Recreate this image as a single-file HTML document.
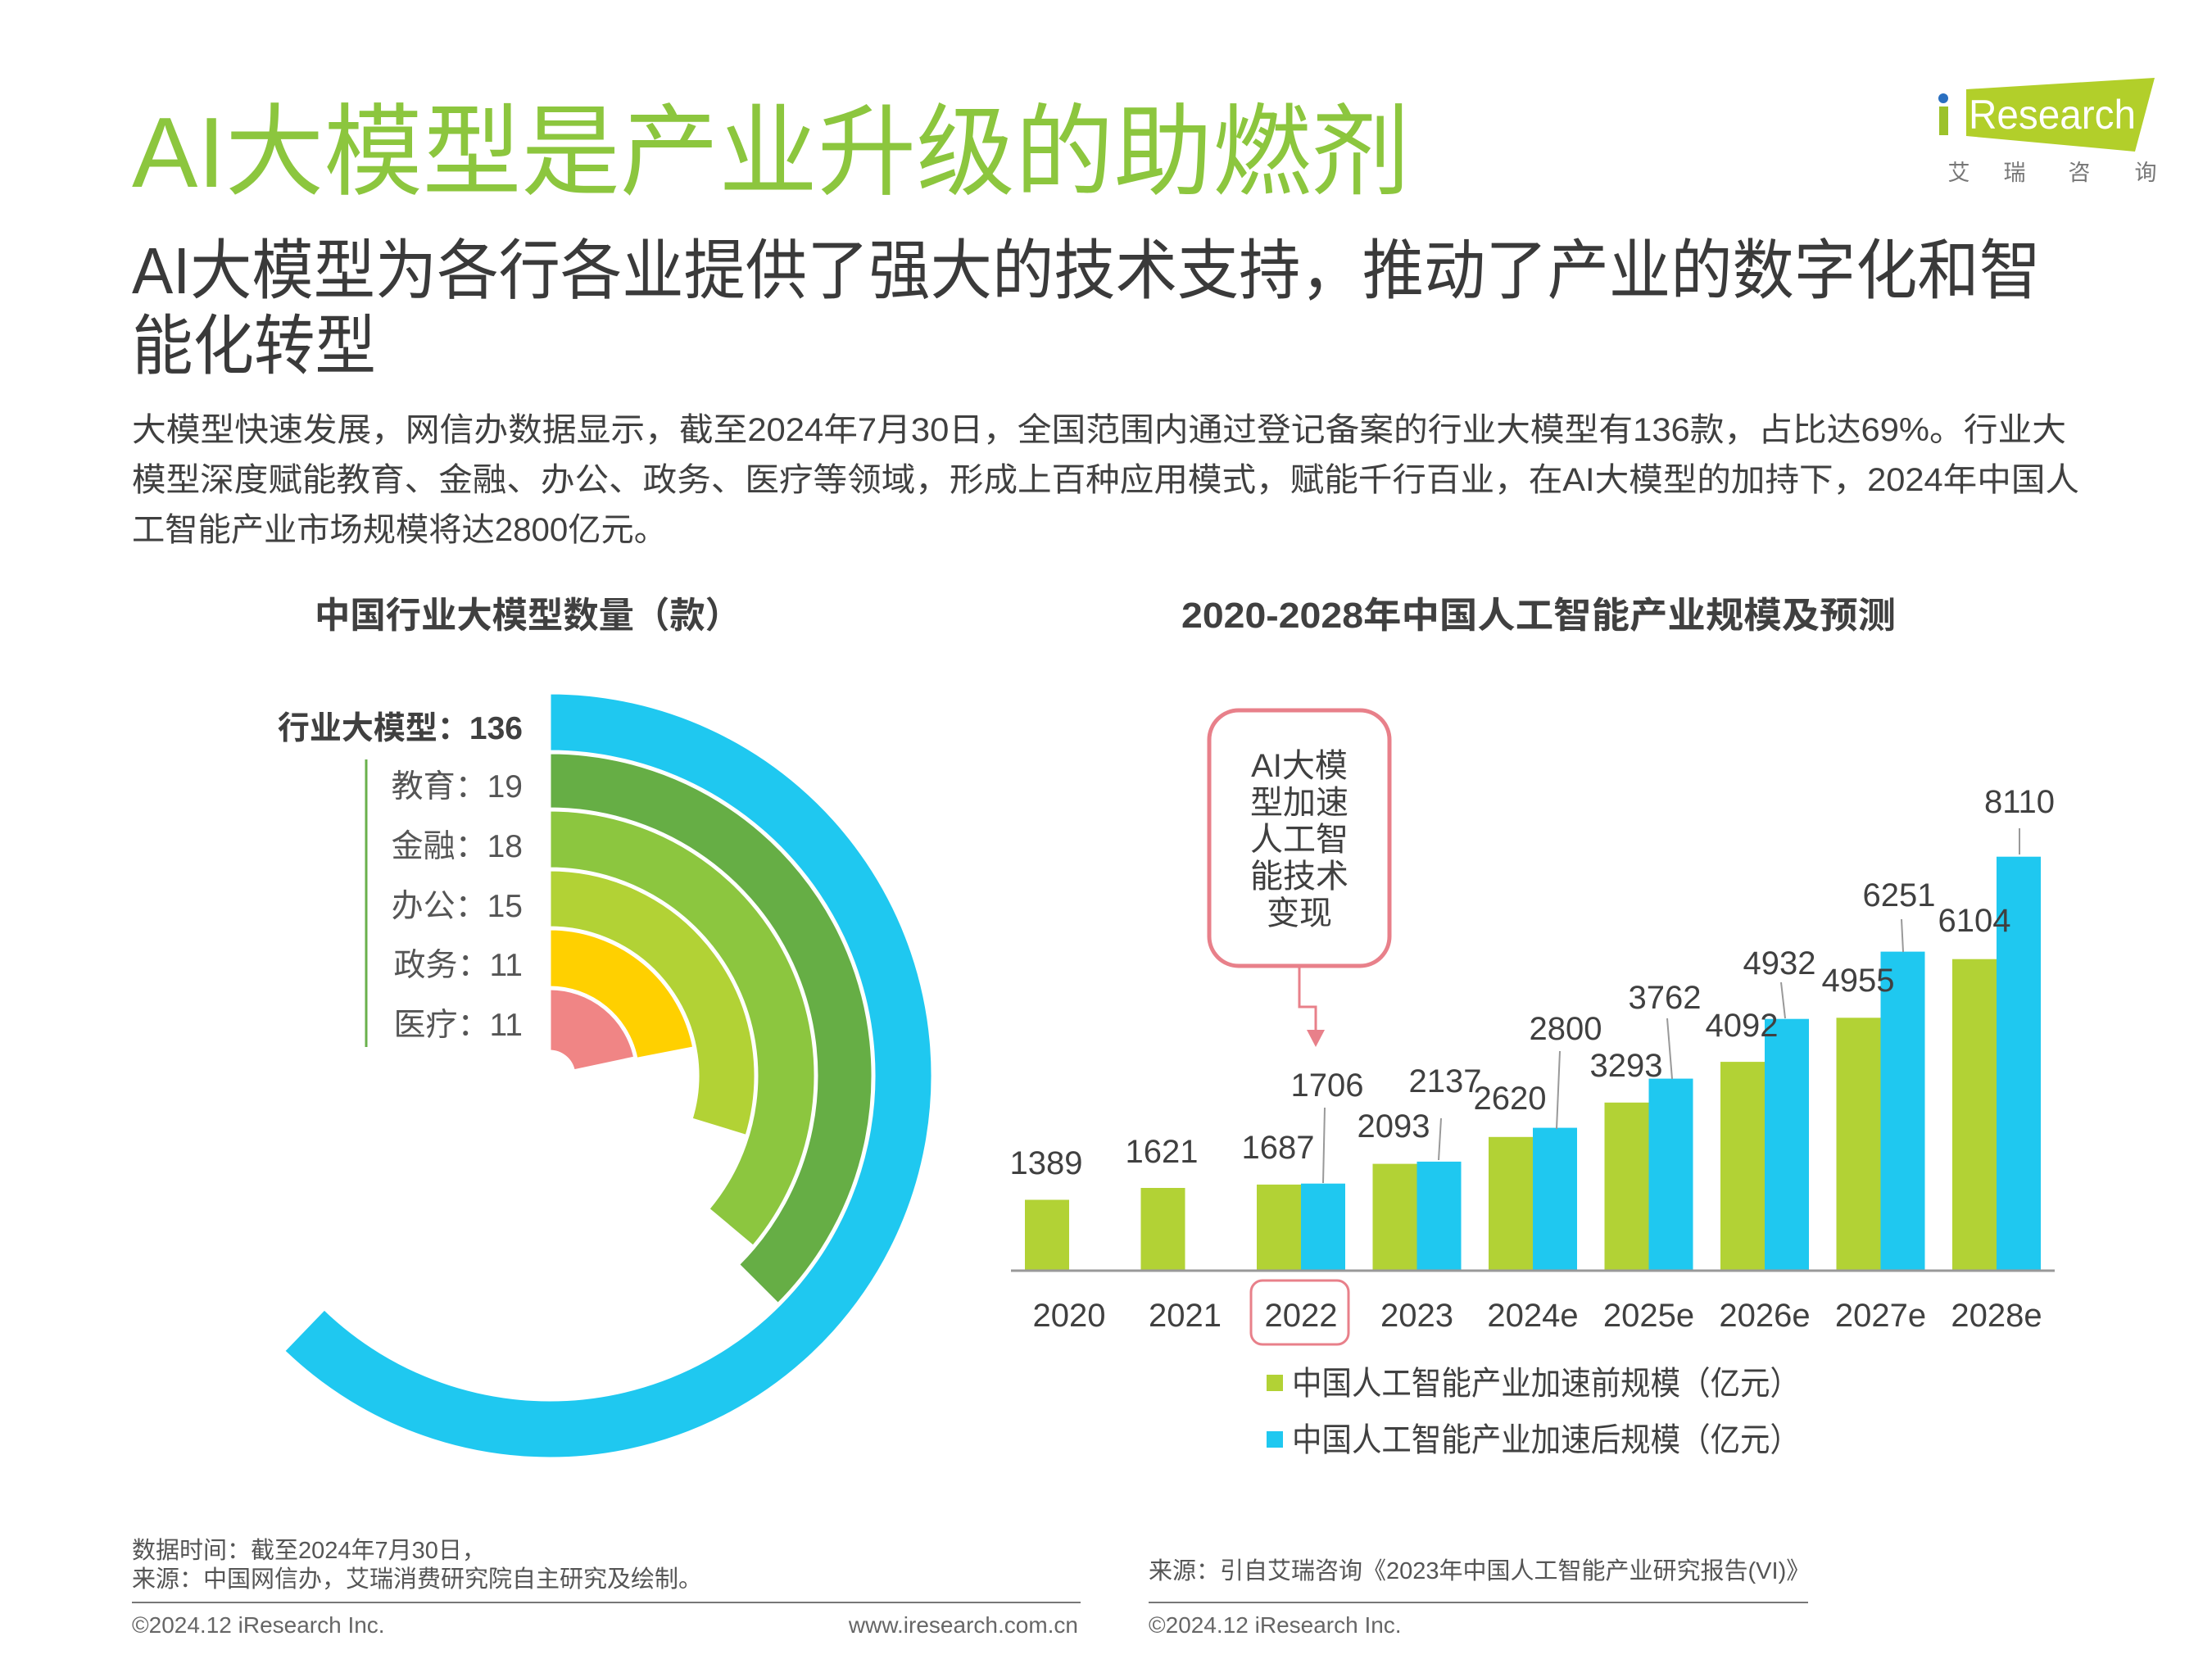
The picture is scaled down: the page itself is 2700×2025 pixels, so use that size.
<!DOCTYPE html>
<html><head><meta charset="utf-8"><style>
html,body{margin:0;padding:0;background:#fff;}
svg{display:block;}
text{font-family:"Liberation Sans","Noto Sans CJK SC",sans-serif;}
</style></head><body>
<svg width="2700" height="2025" viewBox="0 0 2700 2025" xmlns="http://www.w3.org/2000/svg">
<rect width="2700" height="2025" fill="#fff"/>
<!-- logo -->
<polygon points="2400,109 2630,95 2606,185 2400,166" fill="#b2cf2a"/>
<rect x="2367" y="130" width="11" height="35" fill="#9cc22a"/>
<circle cx="2372" cy="120" r="6" fill="#2a6fc0"/>
<text x="2403" y="157" font-size="50" fill="#fff" textLength="204" lengthAdjust="spacingAndGlyphs">Research</text>
<g font-size="27" fill="#777" text-anchor="middle">
<text x="2391" y="220">艾</text><text x="2459" y="220">瑞</text><text x="2538" y="220">咨</text><text x="2619" y="220">询</text>
</g>
<!-- titles -->
<text x="161" y="228" font-size="122" fill="#8cc63e" textLength="1560" lengthAdjust="spacingAndGlyphs">AI大模型是产业升级的助燃剂</text>
<text x="161" y="358" font-size="80" fill="#3a3a3a" textLength="2330" lengthAdjust="spacingAndGlyphs">AI大模型为各行各业提供了强大的技术支持，推动了产业的数字化和智</text>
<text x="161" y="450" font-size="80" fill="#3a3a3a" textLength="298" lengthAdjust="spacingAndGlyphs">能化转型</text>
<g font-size="40" fill="#404040">
<text x="161" y="538" textLength="2361" lengthAdjust="spacingAndGlyphs">大模型快速发展，网信办数据显示，截至2024年7月30日，全国范围内通过登记备案的行业大模型有136款，占比达69%。行业大</text>
<text x="161" y="599" textLength="2377" lengthAdjust="spacingAndGlyphs">模型深度赋能教育、金融、办公、政务、医疗等领域，形成上百种应用模式，赋能千行百业，在AI大模型的加持下，2024年中国人</text>
<text x="161" y="660" textLength="653" lengthAdjust="spacingAndGlyphs">工智能产业市场规模将达2800亿元。</text>
</g>
<text x="384" y="766" font-size="44" font-weight="bold" fill="#404040" textLength="520" lengthAdjust="spacingAndGlyphs">中国行业大模型数量（款）</text>
<text x="1442" y="766" font-size="44" font-weight="bold" fill="#404040" textLength="872" lengthAdjust="spacingAndGlyphs">2020-2028年中国人工智能产业规模及预测</text>
<!-- radial -->
<g stroke="#fff" stroke-width="3" transform="translate(0,-6)">
<path d="M671,852 A467,467 0 1 1 346.6,1654.9 L395.9,1603.8 A396,396 0 1 0 671,923 Z" fill="#1fc8f0"/>
<path d="M671,925 A394,394 0 0 1 949.6,1597.6 L901.5,1549.5 A326,326 0 0 0 671,993 Z" fill="#66ae45"/>
<path d="M671,995 A324,324 0 0 1 919.2,1527.3 L864.8,1481.6 A253,253 0 0 0 671,1066 Z" fill="#8cc63f"/>
<path d="M671,1068 A251,251 0 0 1 911,1392.4 L844.1,1371.9 A181,181 0 0 0 671,1138 Z" fill="#b2d235"/>
<path d="M671,1140 A179,179 0 0 1 846.7,1284.8 L777,1298.4 A108,108 0 0 0 671,1211 Z" fill="#ffd000"/>
<path d="M671,1213 A106,106 0 0 1 774.7,1297 L700.3,1312.8 A30,30 0 0 0 671,1289 Z" fill="#f08585"/>
</g>
<line x1="447" y1="927" x2="447" y2="1278" stroke="#6ab04c" stroke-width="3"/>
<g font-size="39" fill="#555" text-anchor="end">
<text x="638" y="902" font-weight="bold" fill="#404040">行业大模型：136</text>
<text x="638" y="973">教育：19</text>
<text x="638" y="1046">金融：18</text>
<text x="638" y="1119">办公：15</text>
<text x="638" y="1191">政务：11</text>
<text x="638" y="1264">医疗：11</text>
</g>
<g transform="translate(-7,-7)">
<!-- bars -->
<g fill="#b2d235">
<rect x="1258" y="1471.5" width="54" height="86.5"/>
<rect x="1399.5" y="1457" width="54" height="101"/>
<rect x="1541" y="1452.9" width="54" height="105.1"/>
<rect x="1682.5" y="1427.6" width="54" height="130.4"/>
<rect x="1824" y="1394.8" width="54" height="163.2"/>
<rect x="1965.5" y="1352.8" width="54" height="205.2"/>
<rect x="2107" y="1303.1" width="54" height="254.9"/>
<rect x="2248.5" y="1249.3" width="54" height="308.7"/>
<rect x="2390" y="1177.7" width="54" height="380.3"/>
</g>
<g fill="#1fc8f0">
<rect x="1595" y="1451.7" width="54" height="106.3"/>
<rect x="1736.5" y="1424.9" width="54" height="133.1"/>
<rect x="1878" y="1383.6" width="54" height="174.4"/>
<rect x="2019.5" y="1323.6" width="54" height="234.4"/>
<rect x="2161" y="1250.7" width="54" height="307.3"/>
<rect x="2302.5" y="1168.6" width="54" height="389.4"/>
<rect x="2444" y="1052.7" width="54" height="505.3"/>
</g>
<line x1="1241" y1="1558" x2="2515" y2="1558" stroke="#999" stroke-width="3"/>
<g stroke="#999" stroke-width="2">
<line x1="1624" y1="1359" x2="1622" y2="1451"/>
<line x1="1766" y1="1372" x2="1763" y2="1423"/>
<line x1="1911" y1="1290" x2="1907" y2="1385"/>
<line x1="2042" y1="1250" x2="2048" y2="1324"/>
<line x1="2181" y1="1206" x2="2186" y2="1250"/>
<line x1="2328" y1="1129" x2="2330" y2="1169"/>
<line x1="2472" y1="1018" x2="2472" y2="1050"/>
</g>
<g font-size="40" fill="#404040" text-anchor="middle">
<text x="1284" y="1440">1389</text><text x="1425" y="1426">1621</text><text x="1567" y="1421">1687</text>
<text x="1627" y="1345">1706</text><text x="1708" y="1395">2093</text><text x="1771" y="1340">2137</text>
<text x="1850" y="1361">2620</text><text x="1918" y="1276">2800</text><text x="1992" y="1321">3293</text>
<text x="2039" y="1238">3762</text><text x="2133" y="1272">4092</text><text x="2179" y="1196">4932</text>
<text x="2275" y="1217">4955</text><text x="2325" y="1113">6251</text><text x="2417" y="1144">6104</text>
<text x="2472" y="999">8110</text>
</g>
<g font-size="40" fill="#404040" text-anchor="middle">
<text x="1312" y="1626">2020</text><text x="1453.5" y="1626">2021</text><text x="1595" y="1626">2022</text>
<text x="1736.5" y="1626">2023</text><text x="1878" y="1626">2024e</text><text x="2019.5" y="1626">2025e</text>
<text x="2161" y="1626">2026e</text><text x="2302.5" y="1626">2027e</text><text x="2444" y="1626">2028e</text>
</g>
<rect x="1534" y="1570" width="119" height="78" rx="14" fill="none" stroke="#e8808a" stroke-width="3"/>
<!-- callout -->
<rect x="1483" y="874" width="220" height="312" rx="36" fill="#fff" stroke="#e8808a" stroke-width="5"/>
<g font-size="40" fill="#404040" text-anchor="middle">
<text x="1593" y="955">AI大模</text><text x="1593" y="1000">型加速</text><text x="1593" y="1045">人工智</text>
<text x="1593" y="1090">能技术</text><text x="1593" y="1135">变现</text>
</g>
<polyline points="1593,1188 1593,1236 1613,1236 1613,1266" fill="none" stroke="#e8808a" stroke-width="3"/>
<polygon points="1602,1264 1624,1264 1613,1285" fill="#e8808a"/>
<!-- legend -->
<rect x="1553" y="1685" width="20" height="20" fill="#b2d235"/>
<rect x="1553" y="1754" width="20" height="20" fill="#1fc8f0"/>
<g font-size="40" fill="#404040">
<text x="1584" y="1709" textLength="620" lengthAdjust="spacingAndGlyphs">中国人工智能产业加速前规模（亿元）</text>
<text x="1584" y="1778" textLength="620" lengthAdjust="spacingAndGlyphs">中国人工智能产业加速后规模（亿元）</text>
</g>
</g>
<!-- footer -->
<g font-size="29" fill="#555">
<text x="161" y="1902">数据时间：截至2024年7月30日，</text>
<text x="161" y="1937">来源：中国网信办，艾瑞消费研究院自主研究及绘制。</text>
<text x="1402" y="1927">来源：引自艾瑞咨询《2023年中国人工智能产业研究报告(VI)》</text>
</g>
<line x1="161" y1="1956" x2="1319" y2="1956" stroke="#777" stroke-width="2"/>
<line x1="1402" y1="1956" x2="2207" y2="1956" stroke="#777" stroke-width="2"/>
<g font-size="28" fill="#666">
<text x="161" y="1993">©2024.12 iResearch Inc.</text>
<text x="1316" y="1993" text-anchor="end">www.iresearch.com.cn</text>
<text x="1402" y="1993">©2024.12 iResearch Inc.</text>
</g>
</svg>
</body></html>
